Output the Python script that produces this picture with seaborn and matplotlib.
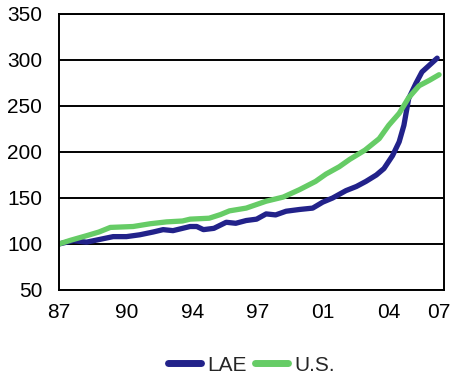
import pandas as pd
import matplotlib
matplotlib.use('Agg')
import matplotlib.pyplot as plt
import seaborn as sns

# Data (index, 1987 = 100)
us_years = [1987.0, 1987.6, 1988.45, 1989.1, 1989.7, 1990.3, 1990.9, 1991.8, 1992.65,
            1993.5, 1993.9, 1994.9, 1995.5, 1995.97, 1996.85, 1997.9, 1998.8, 1999.65,
            2000.5, 2001.05, 2001.75, 2002.3, 2003.1, 2003.85, 2004.35, 2004.9,
            2005.4, 2005.95, 2006.5, 2007.0]
us_values = [100, 104, 109, 113, 118, 118.5, 119, 122, 124,
             125, 127, 128, 132, 136, 139, 146.5, 151, 159,
             168, 176, 184, 192, 202, 214.5, 229, 242,
             259, 272, 278, 284]

lae_years = [1987.0, 1987.75, 1988.45, 1989.15, 1989.85, 1990.55, 1991.25, 1991.95,
             1992.48, 1993.0, 1993.9, 1994.25, 1994.6, 1995.15, 1995.8, 1996.3, 1996.85,
             1997.4, 1997.9, 1998.4, 1998.95, 1999.65, 2000.35, 2000.88, 2001.4,
             2002.1, 2002.65, 2003.15, 2003.7, 2004.1, 2004.55, 2004.9, 2005.15,
             2005.4, 2005.78, 2006.1, 2006.5, 2006.9]
lae_values = [100, 103.6, 102, 105, 108, 108, 110, 113,
              115.6, 114.5, 119, 119, 115.6, 117, 123.6, 122.5, 125.5,
              127, 132.7, 131.6, 135.6, 137.5, 139, 145.5, 150,
              158, 162.5, 168, 175, 182, 196, 211, 229,
              258, 274.5, 287, 294.5, 302]

tick_pos = [1987, 1990.58, 1994.05, 1997.46, 2000.89, 2004.37, 2007]
tick_labels = ['87', '90', '94', '97', '01', '04', '07']
y_ticks = [50, 100, 150, 200, 250, 300, 350]

df = pd.concat([
    pd.DataFrame({'year': lae_years, 'value': lae_values, 'series': 'LAE'}),
    pd.DataFrame({'year': us_years, 'value': us_values, 'series': 'U.S.'}),
])

sns.set_style('white')
plt.rcParams['font.family'] = ['Liberation Sans', 'DejaVu Sans']

fig = plt.figure(figsize=(4.51, 3.75), dpi=100)
ax = fig.add_axes([0.1308, 0.2267, 0.8537, 0.736])

sns.lineplot(data=df, x='year', y='value', hue='series', sort=False,
             palette={'LAE': '#22228a', 'U.S.': '#66cc66'}, linewidth=3.8,
             ax=ax, legend=True)

ax.set_xlim(1987, 2007.26)
ax.set_ylim(50, 350)
ax.set_yticks(y_ticks)
ax.set_xticks(tick_pos)
ax.set_xticklabels(tick_labels)
ax.set_xlabel('')
ax.set_ylabel('')
ax.grid(axis='y', color='black', linewidth=1.4)
ax.set_axisbelow(True)
for s in ax.spines.values():
    s.set_color('black')
    s.set_linewidth(1.4)
ax.tick_params(axis='x', direction='inout', length=11, width=1.4, labelsize=15, pad=4, colors='black')
ax.tick_params(axis='y', length=0, labelsize=15, pad=12, colors='black')

leg = ax.legend(loc='center', bbox_to_anchor=(0.5, -0.272), ncol=2, frameon=False,
                fontsize=15, handlelength=1.6, handletextpad=0.3, columnspacing=0.4,
                borderpad=0.2)
for line in leg.get_lines():
    line.set_linewidth(5)

fig.savefig('out.png', dpi=100)
